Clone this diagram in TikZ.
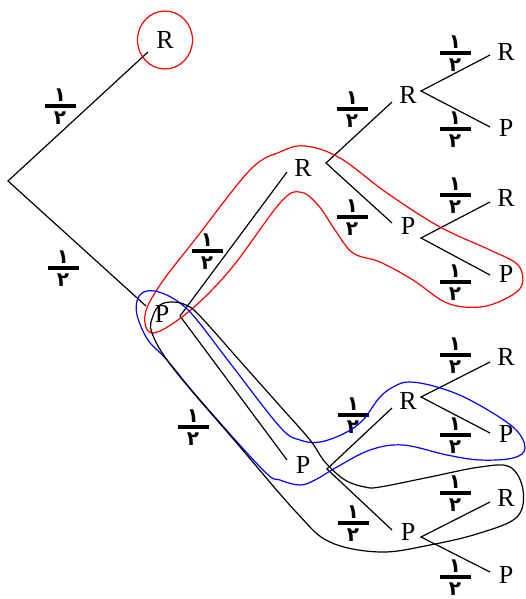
\documentclass[tikz,border=0pt]{standalone}
\usepackage{fontspec}
\setmainfont{Liberation Serif}
\newfontfamily\af{DejaVu Sans Bold}
\newcommand{\digitbox}[1]{\hbox to 31pt{\hss\smash{\af\fontsize{20}{20}\selectfont #1}\hss\vrule height 14.5pt depth 0pt width 0pt}}
\newcommand{\half}{\vbox{\offinterlineskip\digitbox{١}\kern2.5pt\hrule height 3.2pt\kern2.5pt\digitbox{٢}}}
\tikzset{
  lab/.style={font=\fontsize{26}{26}\selectfont, inner sep=0pt},
  frac/.style={inner sep=0pt},
  edge/.style={line width=1.2pt, line join=miter},
  loop/.style={line width=1.2pt, smooth cycle, tension=0.6}
}
\begin{document}
\begin{tikzpicture}[x=1pt,y=-1pt]
\useasboundingbox (0,0) rectangle (525,599);
% text nodes
\node[lab] (R1) at (165,40) {R};
\node[lab] (P1) at (162,314) {P};
\node[lab] (R2) at (303,168) {R};
\node[lab] (P2) at (303,465) {P};
\node[lab] (R3) at (408,95) {R};
\node[lab] (P3) at (408,226) {P};
\node[lab] (R3b) at (408,401) {R};
\node[lab] (P3b) at (408,532) {P};
\node[lab] (L1) at (506,52) {R};
\node[lab] (L2) at (506,128) {P};
\node[lab] (L3) at (506,198) {R};
\node[lab] (L4) at (506,274) {P};
\node[lab] (L5) at (506,357) {R};
\node[lab] (L6) at (506,434) {P};
\node[lab] (L7) at (506,498) {R};
\node[lab] (L8) at (506,575) {P};
% vertices
\coordinate (v0) at (8,181);
\coordinate (vP1) at (180,316);
\coordinate (vR2) at (326,163);
\coordinate (vP2) at (327,469);
\coordinate (vR3) at (421,91);
\coordinate (vP3) at (421,238);
\coordinate (vR3b) at (421,397);
\coordinate (vP3b) at (421,537);
% edge ends
\coordinate (eR1) at (148,52);
\coordinate (eP1) at (146,306);
\coordinate (eR2) at (287,172);
\coordinate (eP2) at (287,460);
\coordinate (eR3) at (392,102);
\coordinate (eP3) at (392,223);
\coordinate (eR3b) at (392,408);
\coordinate (eP3b) at (392,530);
\coordinate (eL1) at (490,55);
\coordinate (eL2) at (490,127);
\coordinate (eL3) at (490,202);
\coordinate (eL4) at (490,275);
\coordinate (eL5) at (490,362);
\coordinate (eL6) at (490,433);
\coordinate (eL7) at (490,502);
\coordinate (eL8) at (490,572);
% edges
\draw[edge] (eR1) -- (v0) -- (eP1);
\draw[edge] (eR2) -- (vP1) -- (eP2);
\draw[edge] (eR3) -- (vR2) -- (eP3);
\draw[edge] (eR3b) -- (vP2) -- (eP3b);
\draw[edge] (eL1) -- (vR3) -- (eL2);
\draw[edge] (eL3) -- (vP3) -- (eL4);
\draw[edge] (eL5) -- (vR3b) -- (eL6);
\draw[edge] (eL7) -- (vP3b) -- (eL8);
% fractions
\node[frac] (f1) at (60,106) {\half};
\node[frac] (f2) at (63,268) {\half};
\node[frac] (f3) at (207,251) {\half};
\node[frac] (f4) at (193,427) {\half};
\node[frac] (f5) at (352,109) {\half};
\node[frac] (f6) at (352,217) {\half};
\node[frac] (f7) at (353,415) {\half};
\node[frac] (f8) at (353,523) {\half};
\node[frac] (f9) at (455,53) {\half};
\node[frac] (f10) at (455,129) {\half};
\node[frac] (f11) at (455,195) {\half};
\node[frac] (f12) at (455,282) {\half};
\node[frac] (f13) at (455,355) {\half};
\node[frac] (f14) at (455,435) {\half};
\node[frac] (f15) at (455,493) {\half};
\node[frac] (f16) at (455,577) {\half};
% red circle
\draw[red, line width=1.2pt] (R1) circle[x radius=27.5pt, y radius=29pt];
% red loop
\draw[red, loop] plot coordinates {(145,315) (160,285) (197,237) (250,170) (280,152) (305,146) (340,158) (387,193) (440,227) (490,250) (518,265) (522,285) (507,298) (480,307) (447,303) (413,280) (380,262) (353,253) (335,230) (318,205) (300,192) (280,203) (230,270) (187,313) (153,333)};
% blue loop
\draw[blue, loop] plot coordinates {(138,298) (147,291) (162,293) (180,303) (197,320) (230,363) (280,427) (300,440) (320,442) (345,433) (363,420) (380,397) (395,386) (410,382) (437,387) (470,400) (513,427) (525,448) (513,458) (480,460) (447,455) (403,445) (370,450) (337,467) (315,480) (300,485) (280,480) (263,470) (200,400) (167,360) (148,340) (137,315)};
% black loop
\draw[black, loop] plot coordinates {(152,333) (153,316) (160,305) (172,302) (186,305) (200,316) (240,361) (280,406) (310,440) (325,462) (345,480) (365,487) (380,487) (430,477) (480,467) (510,467) (523,490) (517,517) (480,533) (430,545) (380,552) (330,542) (297,513) (235,441) (173,368)};
\end{tikzpicture}
\end{document}
